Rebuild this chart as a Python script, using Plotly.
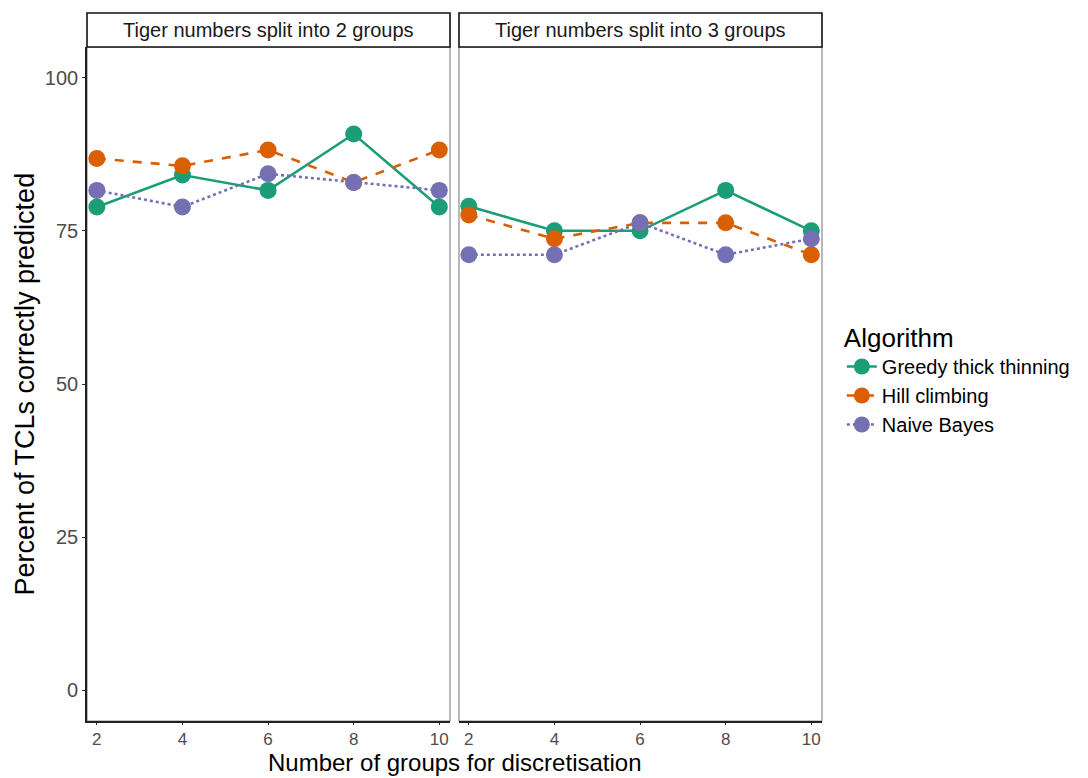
import plotly.graph_objects as go
from plotly.subplots import make_subplots

# Discretisation levels on the x axis
groups = [2, 4, 6, 8, 10]

# Percent of TCLs correctly predicted, tiger numbers split into 2 groups
greedy_2 = [78.9, 84.1, 81.6, 90.8, 78.9]
hill_2 = [86.8, 85.6, 88.2, 82.9, 88.2]
naive_2 = [81.6, 78.9, 84.3, 82.9, 81.6]

# Percent of TCLs correctly predicted, tiger numbers split into 3 groups
greedy_3 = [79.0, 75.0, 75.0, 81.6, 75.0]
hill_3 = [77.6, 73.7, 76.3, 76.3, 71.1]
naive_3 = [71.1, 71.1, 76.3, 71.1, 73.7]

panel_titles = ["Tiger numbers split into 2 groups", "Tiger numbers split into 3 groups"]
algorithms = ["Greedy thick thinning", "Hill climbing", "Naive Bayes"]
colors = ["#1B9E77", "#D95F02", "#7570B3"]
dashes = ["solid", "dash", "dot"]
y_ticks = [0, 25, 50, 75, 100]

FONT = "Liberation Sans, Arial, sans-serif"

fig = make_subplots(rows=1, cols=2, shared_yaxes=False, horizontal_spacing=0.0122)

panels = [[greedy_2, hill_2, naive_2], [greedy_3, hill_3, naive_3]]
for p, series in enumerate(panels):
    for i, vals in enumerate(series):
        fig.add_trace(
            go.Scatter(
                x=groups, y=vals, mode="lines+markers", name=algorithms[i],
                legendgroup=algorithms[i], showlegend=(p == 0),
                line=dict(color=colors[i], width=2.6, dash=dashes[i]),
                marker=dict(color=colors[i], size=17),
            ),
            row=1, col=p + 1,
        )

axis_common = dict(
    ticks="outside", tickcolor="#333333", tickwidth=1,
    showgrid=False, zeroline=False,
)
for c in (1, 2):
    fig.update_xaxes(
        range=[1.77, 10.25], tickvals=groups, showline=True, linecolor="#222222",
        linewidth=1.6, ticklen=2, tickfont=dict(family=FONT, size=17, color="#4d4d4d"),
        row=1, col=c, **axis_common,
    )
fig.update_yaxes(
    range=[-5, 105], tickvals=y_ticks, showline=True, linecolor="#222222",
    linewidth=1.6, ticklen=3, tickfont=dict(family=FONT, size=20, color="#4d4d4d"),
    row=1, col=1, **axis_common,
)
fig.update_yaxes(
    range=[-5, 105], tickvals=y_ticks, showticklabels=False, ticks="",
    showgrid=False, zeroline=False, showline=False, row=1, col=2,
)

# panel borders and strip headers
shapes = []
annotations = []
for c, xref in enumerate(["x domain", "x2 domain"]):
    shapes.append(dict(type="rect", xref=xref, yref="paper", x0=0, x1=1, y0=0, y1=1,
                       line=dict(color="#8a8a8a", width=1.2), layer="below"))
    shapes.append(dict(type="rect", xref=xref, yref="paper", x0=0, x1=1, y0=1, y1=1.0504,
                       line=dict(color="#111111", width=1.6), fillcolor="white"))
    annotations.append(dict(text=panel_titles[c], xref=xref, yref="paper", x=0.5, y=1.0252,
                            showarrow=False, xanchor="center", yanchor="middle",
                            font=dict(family=FONT, size=20, color="#1a1a1a")))

annotations.append(dict(text="Number of groups for discretisation", xref="paper", yref="paper",
                        x=0.5, y=-0.0623, xanchor="center", yanchor="middle", showarrow=False,
                        font=dict(family=FONT, size=24, color="black")))
annotations.append(dict(text="Percent of TCLs correctly predicted", xref="paper", yref="paper",
                        x=-0.085, y=0.5, xanchor="center", yanchor="middle", showarrow=False,
                        textangle=-90, font=dict(family=FONT, size=27, color="black")))

fig.update_layout(
    width=1088, height=778,
    margin=dict(l=87, r=266, t=47, b=57, autoexpand=False),
    plot_bgcolor="white", paper_bgcolor="white",
    shapes=shapes, annotations=annotations,
    legend=dict(
        title=dict(text="Algorithm", font=dict(family=FONT, size=26, color="black")),
        font=dict(family=FONT, size=20, color="black"),
        x=1.027, xanchor="left", y=0.605, yanchor="top",
        itemwidth=30, tracegroupgap=0, bgcolor="rgba(0,0,0,0)",
    ),
)

fig.write_html("out.html")
